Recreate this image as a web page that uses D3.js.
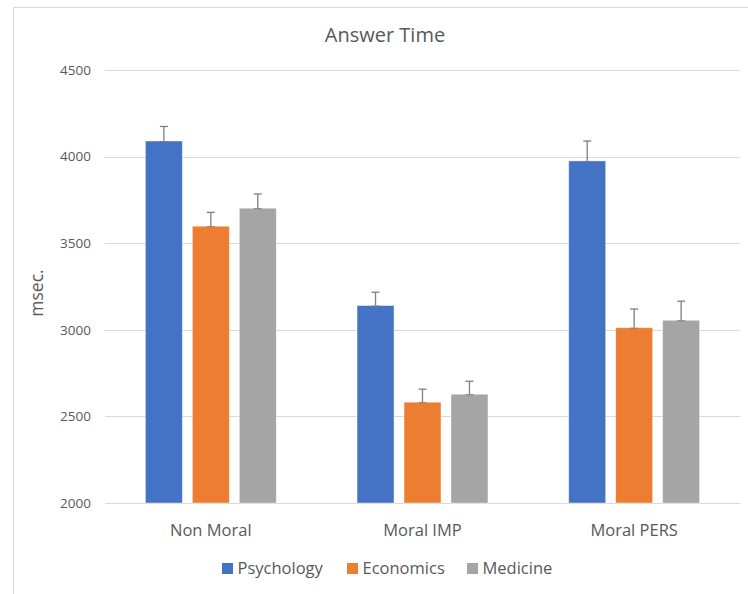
<!DOCTYPE html>
<meta charset="utf-8">
<style>
body { margin: 0; background: #fff; }
text { font-family: "Open Sans", sans-serif; fill: #595959; }
</style>
<body>
<script src="https://d3js.org/d3.v7.min.js"></script>
<script>

var categories = ["Non Moral", "Moral IMP", "Moral PERS"];
var series = ["Psychology", "Economics", "Medicine"];
var colours = ["#4472C4", "#ED7D31", "#A5A5A5"];
// mean answer time per category, one array per series
var psychology = [4090, 3140, 3975];
var economics = [3598, 2582, 3012];
var medicine = [3702, 2628, 3055];
// error (plus) per category
var psychologyErr = [84, 77, 115];
var economicsErr = [80, 75, 108];
var medicineErr = [82, 75, 110];
var yTicks = [2000, 2500, 3000, 3500, 4000, 4500];

var values = [psychology, economics, medicine];
var errors = [psychologyErr, economicsErr, medicineErr];

var width = 748,
    height = 594,
    plotLeft = 105,
    plotRight = 740,
    plotTop = 70,
    plotBottom = 503;

var svg = d3.select("body").append("svg")
    .attr("width", width)
    .attr("height", height);

// chart frame
svg.append("path")
    .attr("d", "M13.5,594 L13.5,7.5 L748,7.5")
    .attr("fill", "none")
    .attr("stroke", "#d9d9d9")
    .attr("stroke-width", 1);

var x0 = d3.scaleBand()
    .domain(categories)
    .range([plotLeft, plotRight]);

var x1 = d3.scaleBand()
    .domain(series)
    .range([0, x0.bandwidth()])
    .paddingInner(0.213)
    .paddingOuter(0.86);

var y = d3.scaleLinear()
    .domain([2000, 4500])
    .range([plotBottom, plotTop]);

// gridlines
svg.append("g")
    .selectAll("line")
    .data(yTicks)
    .enter()
    .append("line")
    .attr("x1", plotLeft)
    .attr("x2", plotRight)
    .attr("y1", function(d) { return Math.round(y(d)) + 0.5; })
    .attr("y2", function(d) { return Math.round(y(d)) + 0.5; })
    .attr("stroke", "#d9d9d9")
    .attr("stroke-width", 1.2);

// y tick labels
svg.append("g")
    .selectAll("text")
    .data(yTicks)
    .enter()
    .append("text")
    .attr("x", 91)
    .attr("y", function(d) { return y(d); })
    .attr("dy", "0.35em")
    .attr("text-anchor", "end")
    .attr("font-size", 13.5)
    .text(function(d) { return d; });

// bars
var rows = [];
categories.forEach(function(c, i) {
    series.forEach(function(s, j) {
        rows.push({cat: c, ser: s, j: j, v: values[j][i], e: errors[j][i]});
    });
});

var bar = svg.append("g")
    .selectAll("g")
    .data(rows)
    .enter()
    .append("g")
    .attr("transform", function(d) { return "translate(" + (x0(d.cat) + x1(d.ser)) + ",0)"; });

bar.append("rect")
    .attr("x", 0)
    .attr("y", function(d) { return y(d.v); })
    .attr("width", x1.bandwidth())
    .attr("height", function(d) { return y(2000) - y(d.v); })
    .attr("fill", function(d) { return colours[d.j]; })
    .attr("stroke", "#ffffff")
    .attr("stroke-opacity", 0.5)
    .attr("stroke-width", 0.8);

// error bars
var cx = x1.bandwidth() / 2, cap = 4;
bar.append("line")
    .attr("x1", cx).attr("x2", cx)
    .attr("y1", function(d) { return y(d.v); })
    .attr("y2", function(d) { return y(d.v + d.e); })
    .attr("stroke", "#7f7f7f")
    .attr("stroke-width", 1.3);
bar.append("line")
    .attr("x1", cx - cap).attr("x2", cx + cap)
    .attr("y1", function(d) { return y(d.v + d.e); })
    .attr("y2", function(d) { return y(d.v + d.e); })
    .attr("stroke", "#7f7f7f")
    .attr("stroke-width", 1.3);
bar.append("line")
    .attr("x1", cx - cap).attr("x2", cx + cap)
    .attr("y1", function(d) { return y(d.v) + 0.5; })
    .attr("y2", function(d) { return y(d.v) + 0.5; })
    .attr("stroke", "#7f7f7f")
    .attr("stroke-width", 1);

// category labels
svg.append("g")
    .selectAll("text")
    .data(categories)
    .enter()
    .append("text")
    .attr("x", function(d) { return x0(d) + x0.bandwidth() / 2; })
    .attr("y", 536)
    .attr("text-anchor", "middle")
    .attr("font-size", 16.5)
    .text(function(d) { return d; });

// title
svg.append("text")
    .attr("x", 385)
    .attr("y", 42)
    .attr("text-anchor", "middle")
    .attr("font-size", 20)
    .text("Answer Time");

// y axis title
svg.append("text")
    .attr("transform", "translate(42.5,293) rotate(-90)")
    .attr("text-anchor", "middle")
    .attr("font-size", 17.5)
    .text("msec.");

// legend
var legendX = [222, 347, 467];
var legend = svg.append("g")
    .selectAll("g")
    .data(series)
    .enter()
    .append("g")
    .attr("transform", function(d, i) { return "translate(" + legendX[i] + ",563)"; });

legend.append("rect")
    .attr("width", 11)
    .attr("height", 11)
    .attr("fill", function(d, i) { return colours[i]; });

legend.append("text")
    .attr("x", 15.5)
    .attr("y", 10.5)
    .attr("font-size", 16.5)
    .text(function(d) { return d; });

</script>
